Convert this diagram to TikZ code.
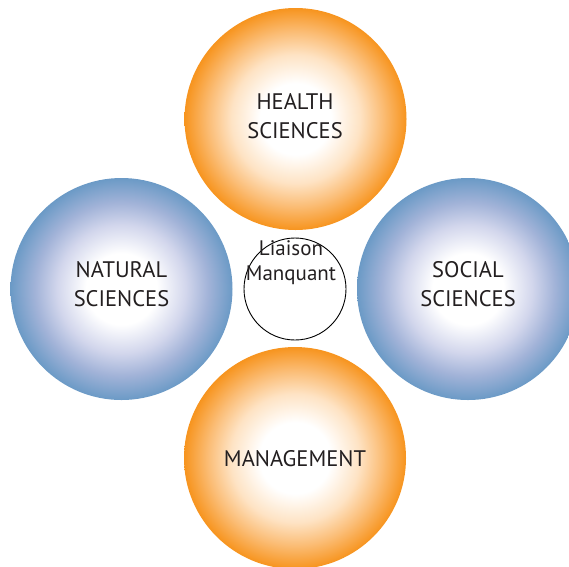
\documentclass[tikz,border=0pt]{standalone}
\usepackage{fontspec}
\setmainfont{PT Sans}
\definecolor{ballorange}{HTML}{F7941E}
\definecolor{ballblue}{HTML}{6B9AC6}
\definecolor{paleblue}{HTML}{D2D6EC}
\definecolor{midblue}{HTML}{A2B3D8}
\definecolor{paleorange}{HTML}{FEE3C4}
\definecolor{midorange}{HTML}{FBBE78}
\definecolor{txt}{HTML}{231F20}
\pgfdeclareradialshading{orangeball}{\pgfpointorigin}{color(0bp)=(white); color(8bp)=(white); color(14.5bp)=(paleorange); color(19.5bp)=(midorange); color(25bp)=(ballorange); color(50bp)=(ballorange)}
\pgfdeclareradialshading{blueball}{\pgfpointorigin}{color(0bp)=(white); color(8bp)=(white); color(14.5bp)=(paleblue); color(19.5bp)=(midblue); color(25bp)=(ballblue); color(50bp)=(ballblue)}
\begin{document}
\begin{tikzpicture}[x=1pt,y=-1pt,
  ball/.style={circle, inner sep=0pt, minimum size=222pt, draw=none},
  obal/.style={ball, shading=orangeball},
  bbal/.style={ball, shading=blueball},
  lbl/.style={align=center, text=txt, font=\fontsize{22.5}{28.5}\selectfont, inner sep=0pt},
  slbl/.style={align=center, text=txt, font=\fontsize{21}{25}\selectfont, inner sep=0pt},
  link/.style={circle, draw=black, line width=0.9pt, minimum size=102pt, inner sep=0pt}]
\useasboundingbox (0,0) rectangle (569,566);
\begin{scope}
\clip (0,0) rectangle (569,566);
\node[obal] (health) at (295.5,119) {};
\node[bbal] (natural) at (121.5,289) {};
\node[bbal] (social) at (468,289) {};
\node[obal] (management) at (295,458) {};
\end{scope}
\node[link] (liaison) at (295,289) {};
\node[lbl] (healthtxt) at (295,116) {HEALTH\\SCIENCES};
\node[lbl] (naturaltxt) at (121.5,284) {NATURAL\\SCIENCES};
\node[lbl] (socialtxt) at (468,284) {SOCIAL\\SCIENCES};
\node[lbl] (managementtxt) at (295,459) {MANAGEMENT};
\node[slbl] (liaisontxt) at (291,263) {Liaison\\Manquant};
\end{tikzpicture}
\end{document}
